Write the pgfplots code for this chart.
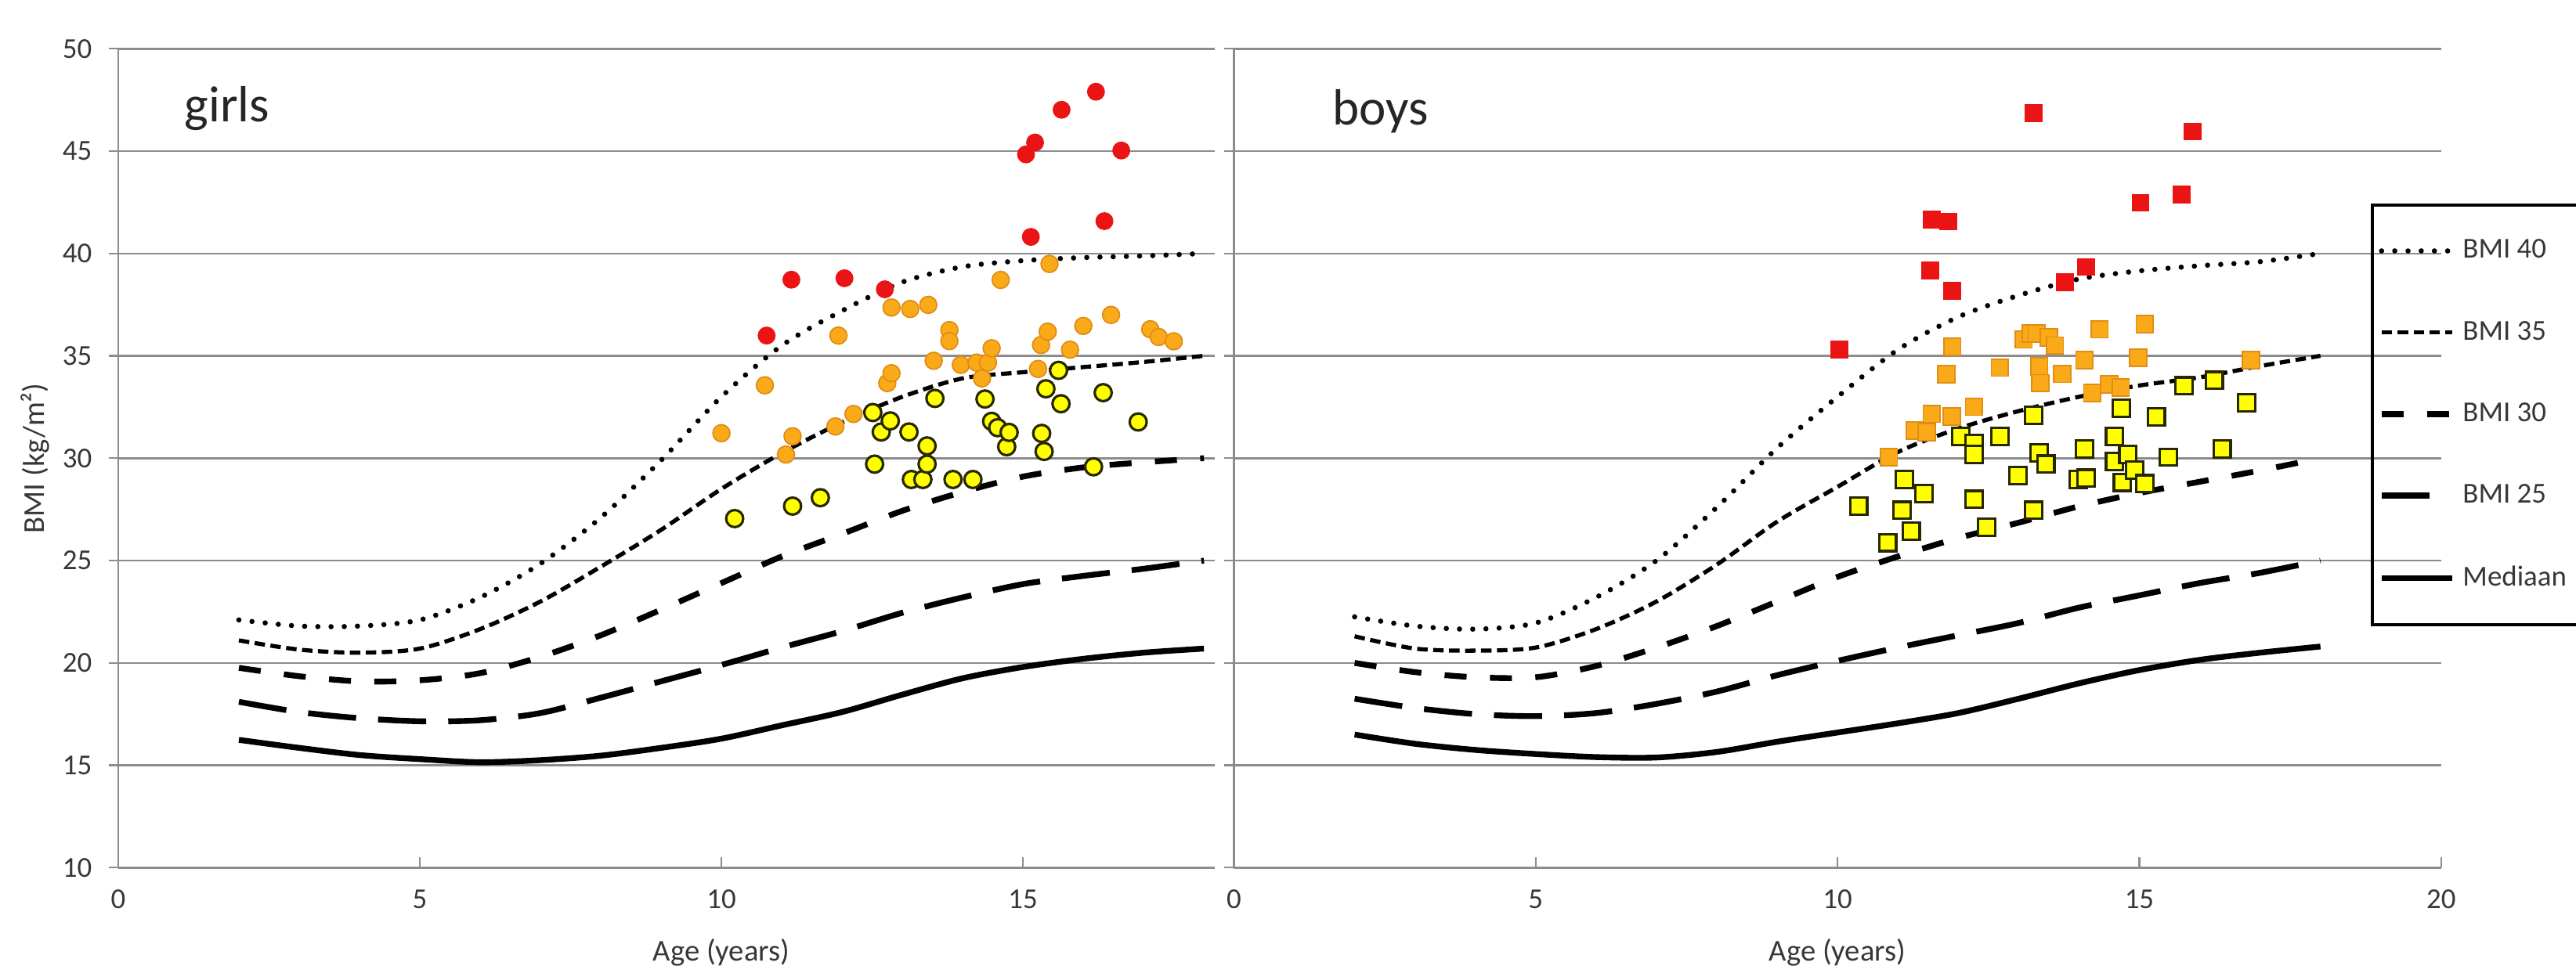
\documentclass[border=0pt]{standalone}
\usepackage{pgfplots}
\pgfplotsset{compat=1.18}
\usepackage{fontspec}
\setmainfont{Carlito}
\definecolor{gridgray}{RGB}{140,140,140}
\definecolor{ptred}{RGB}{235,20,20}
\definecolor{ptorange}{RGB}{250,170,25}
\definecolor{ptorangeedge}{RGB}{225,140,20}
\definecolor{ptyellow}{RGB}{255,255,0}
\definecolor{ptyellowedge}{RGB}{40,40,0}
\definecolor{ticktext}{RGB}{55,55,55}
\pgfplotsset{
  panel/.style={
    scale only axis, height=10.46cm, ymin=10, ymax=50, ytick={10,15,...,50},
    axis x line=bottom, axis y line=left,
    every outer x axis line/.append style={-},
    every outer y axis line/.append style={-},
    axis line style={-, draw=gridgray, line width=0.7pt},
    ymajorgrids, grid style={draw=gridgray, line width=0.7pt},
    tick align=inside, major tick length=0.13cm,
    tick style={draw=gridgray, line width=0.6pt},
    ytick style={xshift=-0.12cm},
    tick label style={font=\fontsize{10.5}{12}\selectfont, text=ticktext},
    /pgf/number format/assume math mode=true,
    xticklabel style={anchor=center, yshift=-0.407cm, inner sep=0pt},
    yticklabel style={anchor=east, inner sep=0pt, xshift=-0.33cm},
    label style={font=\fontsize{11}{13}\selectfont, text=ticktext},
  },
  bmiforty/.style={black, line width=1.9pt, line cap=round, dash pattern=on 0pt off 4.8pt, smooth},
  bmithirtyfive/.style={black, line width=1.5pt, dash pattern=on 3.8pt off 2pt, smooth},
  bmithirty/.style={black, line width=2.1pt, dash pattern=on 8pt off 8.5pt, smooth},
  bmitwentyfive/.style={black, line width=2.1pt, dash pattern=on 17.5pt off 8pt, smooth},
  median/.style={black, line width=2.1pt, solid, smooth},
  redpt/.style={only marks, mark=#1, mark size=3.1pt, mark options={solid, fill=ptred, draw=ptred, line width=0.3pt}},
  orangept/.style={only marks, mark=#1, mark size=3.1pt, mark options={solid, fill=ptorange, draw=ptorangeedge, line width=0.5pt}},
  yellowpt/.style={only marks, mark=#1, mark size=3.1pt, mark options={solid, fill=ptyellow, draw=ptyellowedge, line width=0.9pt}},
}
\begin{document}
\begin{tikzpicture}
% ---------------- girls ----------------
\begin{axis}[panel, at={(1.51cm,1.397cm)}, anchor=south west,
  width=14.00cm, xmin=0, xmax=18.18, xtick={0,5,10,15},
  ylabel={BMI (kg/m²)},
  ylabel style={at={(axis description cs:-0.0757,0.5)}, anchor=center, rotate=0},
  xlabel={Age (years)},
  xlabel style={at={(axis description cs:0.55,0)}, anchor=center, yshift=-1.087cm},
]
\addplot[bmiforty] coordinates {(2,22.1)(3,21.8)(4,21.8)(5,22.1)(6,23.2)(7,24.85)(8,27.1)(9,29.9)(10,33.0)(11,35.5)(12,37.2)(13,38.6)(14,39.35)(15,39.65)(16,39.8)(17,39.88)(18,40.0)};
\addplot[bmithirtyfive] coordinates {(2,21.1)(3,20.65)(4,20.5)(5,20.7)(6,21.65)(7,23.0)(8,24.7)(9,26.5)(10,28.5)(11,30.25)(12,31.75)(13,33.0)(14,33.9)(15,34.2)(16,34.45)(17,34.7)(18,35.0)};
\addplot[bmithirty] coordinates {(2,19.76)(3,19.35)(4,19.1)(5,19.15)(6,19.5)(7,20.3)(8,21.35)(9,22.6)(10,23.9)(11,25.2)(12,26.3)(13,27.43)(14,28.35)(15,29.1)(16,29.55)(17,29.8)(18,30.0)};
\addplot[bmitwentyfive] coordinates {(2,18.1)(3,17.6)(4,17.3)(5,17.15)(6,17.2)(7,17.55)(8,18.3)(9,19.1)(10,19.9)(11,20.75)(12,21.55)(13,22.45)(14,23.2)(15,23.85)(16,24.25)(17,24.6)(18,25.0)};
\addplot[median] coordinates {(2,16.24)(3,15.85)(4,15.5)(5,15.3)(6,15.15)(7,15.25)(8,15.47)(9,15.85)(10,16.3)(11,16.95)(12,17.6)(13,18.45)(14,19.25)(15,19.8)(16,20.2)(17,20.5)(18,20.7)};
\addplot[redpt=*] coordinates {(10.75,35.99)(11.16,38.72)(12.04,38.79)(12.71,38.25)(15.05,44.84)(15.20,45.42)(15.64,47.02)(16.21,47.90)(16.63,45.03)(15.13,40.81)(16.35,41.58)};
\addplot[orangept=*] coordinates {(10.00,31.22)(10.72,33.56)(11.07,30.18)(11.18,31.07)(11.89,31.55)(11.94,35.99)(12.19,32.16)(12.75,33.67)(12.82,34.15)(12.82,37.36)(13.13,37.29)(13.43,37.49)(13.52,34.76)(13.78,36.26)(13.78,35.72)(13.97,34.56)(14.23,34.67)(14.32,33.90)(14.42,34.67)(14.48,35.37)(14.63,38.71)(15.25,34.36)(15.30,35.53)(15.41,36.18)(15.44,39.49)(15.78,35.30)(16.00,36.46)(16.46,37.00)(17.11,36.30)(17.25,35.92)(17.50,35.71)};
\addplot[yellowpt=*] coordinates {(10.22,27.05)(11.18,27.66)(11.64,28.07)(12.51,32.23)(12.54,29.71)(12.65,31.28)(12.80,31.82)(13.11,31.28)(13.15,28.96)(13.34,28.96)(13.41,30.60)(13.41,29.71)(13.54,32.92)(13.84,28.96)(14.17,28.96)(14.37,32.89)(14.48,31.80)(14.58,31.49)(14.73,30.56)(14.77,31.26)(15.31,31.21)(15.35,30.33)(15.38,33.39)(15.59,34.29)(15.63,32.66)(16.17,29.58)(16.33,33.20)(16.91,31.77)};
\node[anchor=base west, inner sep=0pt, font=\fontsize{18.5}{22}\selectfont, text=black!85] at (axis cs:1.09,46.45) {girls};
\end{axis}
% ---------------- boys ----------------
\begin{axis}[panel, at={(15.754cm,1.397cm)}, anchor=south west,
  width=15.414cm, xmin=0, xmax=20, xtick={0,5,10,15,20},
  yticklabels={},
  xlabel={Age (years)},
  xlabel style={at={(axis description cs:0.5,0)}, anchor=center, yshift=-1.087cm},
  legend cell align=left,
  legend image code/.code={\draw[#1] (0cm,0cm) -- (0.9cm,0cm);},
  legend style={at={(axis description cs:0.9418,0.811)}, anchor=north west,
    draw=black, line width=1.1pt, fill=none, inner xsep=0.08cm, inner ysep=0.34cm,
    row sep=0.55cm, font=\fontsize{10.5}{12}\selectfont, text=ticktext,
    nodes={inner sep=0.1cm}},
]
\addplot[bmiforty] coordinates {(2,22.25)(3,21.8)(4,21.65)(5,21.95)(6,23.2)(7,25.0)(8,27.6)(9,30.5)(10,33.0)(11,35.3)(12,36.9)(13,37.95)(14,38.75)(15,39.15)(16,39.4)(17,39.6)(18,40.0)};
\addlegendentry{BMI 40}
\addplot[bmithirtyfive] coordinates {(2,21.3)(3,20.7)(4,20.6)(5,20.75)(6,21.65)(7,23.0)(8,24.8)(9,26.9)(10,28.6)(11,30.3)(12,31.45)(13,32.3)(14,33.0)(15,33.55)(16,33.95)(17,34.5)(18,35.0)};
\addlegendentry{BMI 35}
\addplot[bmithirty] coordinates {(2,20.0)(3,19.55)(4,19.3)(5,19.3)(6,19.85)(7,20.75)(8,21.8)(9,23.0)(10,24.2)(11,25.2)(12,26.1)(13,26.85)(14,27.65)(15,28.3)(16,28.85)(17,29.4)(18,30.0)};
\addlegendentry{BMI 30}
\addplot[bmitwentyfive, legend image code/.code={\draw[black, line width=2.1pt] (0cm,0cm) -- (0.63cm,0cm); \path (0.9cm,0cm);}] coordinates {(2,18.25)(3,17.8)(4,17.5)(5,17.4)(6,17.55)(7,18.0)(8,18.6)(9,19.4)(10,20.1)(11,20.75)(12,21.35)(13,21.95)(14,22.7)(15,23.3)(16,23.9)(17,24.4)(18,25.0)};
\addlegendentry{BMI 25}
\addplot[median] coordinates {(2,16.5)(3,16.05)(4,15.75)(5,15.55)(6,15.4)(7,15.38)(8,15.65)(9,16.15)(10,16.6)(11,17.05)(12,17.55)(13,18.25)(14,19.0)(15,19.65)(16,20.15)(17,20.5)(18,20.8)};
\addlegendentry{Mediaan}
\addplot[redpt=square*, forget plot] coordinates {(10.03,35.31)(11.54,39.16)(11.56,41.66)(11.83,41.56)(11.90,38.18)(13.25,46.84)(13.77,38.59)(14.12,39.34)(15.02,42.48)(15.70,42.89)(15.88,45.96)};
\addplot[orangept=square*, forget plot] coordinates {(10.85,30.05)(11.28,31.35)(11.48,31.28)(11.56,32.17)(11.89,32.03)(11.80,34.10)(11.90,35.44)(12.26,32.51)(12.69,34.42)(13.08,35.80)(13.20,36.10)(13.30,36.10)(13.50,35.90)(13.60,35.50)(13.34,34.49)(13.36,33.67)(13.72,34.12)(14.09,34.79)(14.34,36.30)(14.22,33.19)(14.50,33.60)(14.69,33.46)(14.98,34.90)(15.09,36.54)(16.85,34.79)};
\addplot[yellowpt=square*, forget plot] coordinates {(10.35,27.66)(10.83,25.88)(11.07,27.45)(11.11,28.96)(11.22,26.43)(11.43,28.27)(12.04,31.07)(12.26,30.73)(12.26,30.19)(12.26,27.99)(12.47,26.63)(12.69,31.07)(12.99,29.16)(13.25,32.10)(13.25,27.45)(13.34,30.25)(13.45,29.71)(13.99,28.96)(14.12,29.02)(14.09,30.46)(14.59,31.07)(14.59,29.84)(14.70,32.44)(14.72,28.82)(14.81,30.19)(14.92,29.43)(15.09,28.75)(15.28,32.03)(15.48,30.05)(15.74,33.53)(16.24,33.80)(16.37,30.46)(16.78,32.71)};
\node[anchor=base west, inner sep=0pt, font=\fontsize{18.5}{22}\selectfont, text=black!85] at (axis cs:1.63,46.3) {boys};
\end{axis}
\pgfresetboundingbox
\path[use as bounding box] (0,0) rectangle (32.89cm,12.48cm);
\end{tikzpicture}
\end{document}
